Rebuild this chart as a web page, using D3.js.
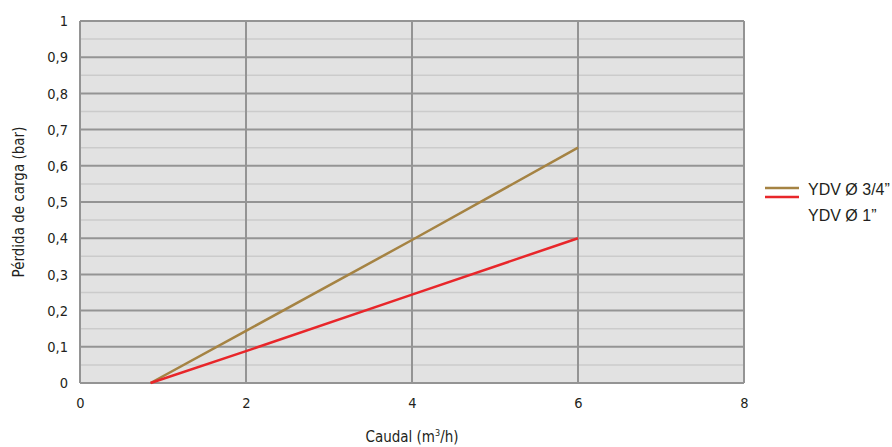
<!doctype html>
<html>
<head>
  <meta charset="utf-8">
  <style>
      body { margin:0; background:#fff; }
      svg  { display:block; }
      .tick text {
         font-family:"DejaVu Sans Condensed","DejaVu Sans",sans-serif;
         font-stretch:condensed;
         font-size:14.5px;
         fill:#231f20;
      }
      .axis path, .axis line { display:none; }
      .title {
         font-family:"DejaVu Sans Condensed","DejaVu Sans",sans-serif;
         font-stretch:condensed;
         font-size:15px;
         fill:#231f20;
      }
      .legend text {
         font-family:"Liberation Sans",Arial,sans-serif;
         font-size:16px;
         fill:#231f20;
      }
  </style>
  <script src="https://cdn.jsdelivr.net/npm/d3@7"></script>
</head>
<body>
  <script>

      // data
      var caudal   = [0.85, 2, 4, 6];
      var ydv34    = [0, 0.144, 0.395, 0.65];
      var ydv1     = [0, 0.088, 0.244, 0.40];
      var seriesNames  = ["YDV \u00D8 3/4\u201D", "YDV \u00D8 1\u201D"];
      var seriesColors = ["#a58343", "#e8262a"];
      var xTicks = [0, 2, 4, 6, 8];
      var yTicks = [0, 0.1, 0.2, 0.3, 0.4, 0.5, 0.6, 0.7, 0.8, 0.9, 1];
      var yMinor = [0.05, 0.15, 0.25, 0.35, 0.45, 0.55, 0.65, 0.75, 0.85, 0.95];

      var W = 892, H = 447;
      var pL = 80, pR = 744, pT = 21, pB = 383;

      var svg = d3.select("body").append("svg")
         .attr("width", W)
         .attr("height", H);

      var x = d3.scaleLinear().domain([0, 8]).range([pL, pR]);
      var y = d3.scaleLinear().domain([0, 1]).range([pB, pT]);

      // plot background
      svg.append("rect")
         .attr("x", pL).attr("y", pT)
         .attr("width", pR - pL).attr("height", pB - pT)
         .attr("fill", "#e2e2e2");

      // minor horizontal grid
      svg.append("g").selectAll("line")
         .data(yMinor)
         .enter().append("line")
         .attr("x1", pL).attr("x2", pR)
         .attr("y1", function(d) { return y(d); })
         .attr("y2", function(d) { return y(d); })
         .attr("stroke", "#cbcbcb")
         .attr("stroke-width", 1.5);

      // major horizontal grid
      svg.append("g").selectAll("line")
         .data(yTicks)
         .enter().append("line")
         .attr("x1", pL).attr("x2", pR)
         .attr("y1", function(d) { return y(d); })
         .attr("y2", function(d) { return y(d); })
         .attr("stroke", "#949494")
         .attr("stroke-width", 2);

      // vertical grid
      svg.append("g").selectAll("line")
         .data(xTicks)
         .enter().append("line")
         .attr("y1", pT).attr("y2", pB)
         .attr("x1", function(d) { return x(d); })
         .attr("x2", function(d) { return x(d); })
         .attr("stroke", "#949494")
         .attr("stroke-width", 2);

      // axes (labels only)
      var fmt = function(d) { return String(+d.toFixed(1)).replace(".", ","); };

      svg.append("g")
         .attr("class", "axis")
         .attr("transform", "translate(0," + pB + ")")
         .call(d3.axisBottom(x).tickValues(xTicks).tickSize(0).tickPadding(15).tickFormat(fmt));

      svg.append("g")
         .attr("class", "axis")
         .attr("transform", "translate(" + pL + ",0)")
         .call(d3.axisLeft(y).tickValues(yTicks).tickSize(0).tickPadding(12).tickFormat(fmt));

      // lines
      var line = d3.line()
         .x(function(d, i) { return x(caudal[i]); })
         .y(function(d) { return y(d); });

      [ydv34, ydv1].forEach(function(s, i) {
         svg.append("path")
            .attr("d", line(s))
            .attr("fill", "none")
            .attr("stroke", seriesColors[i])
            .attr("stroke-width", 2.5);
      });

      // axis titles
      var xt = svg.append("text")
         .attr("class", "title")
         .attr("x", x(4))
         .attr("y", 442)
         .attr("text-anchor", "middle");
      xt.append("tspan").text("Caudal (m");
      xt.append("tspan").attr("dy", -6).attr("font-size", "9px").text("3");
      xt.append("tspan").attr("dy", 6).text("/h)");

      svg.append("text")
         .attr("class", "title")
         .attr("transform", "translate(24," + ((pT + pB) / 2) + ") rotate(-90)")
         .attr("text-anchor", "middle")
         .text("P\u00E9rdida de carga (bar)");

      // legend
      var lg = svg.append("g").attr("class", "legend");
      seriesNames.forEach(function(n, i) {
         lg.append("line")
            .attr("x1", 765).attr("x2", 799)
            .attr("y1", 188 + i * 9).attr("y2", 188 + i * 9)
            .attr("stroke", seriesColors[i])
            .attr("stroke-width", 2.5);
         lg.append("text")
            .attr("x", 808)
            .attr("y", 195 + i * 26)
            .text(n);
      });

  </script>
</body>
</html>
